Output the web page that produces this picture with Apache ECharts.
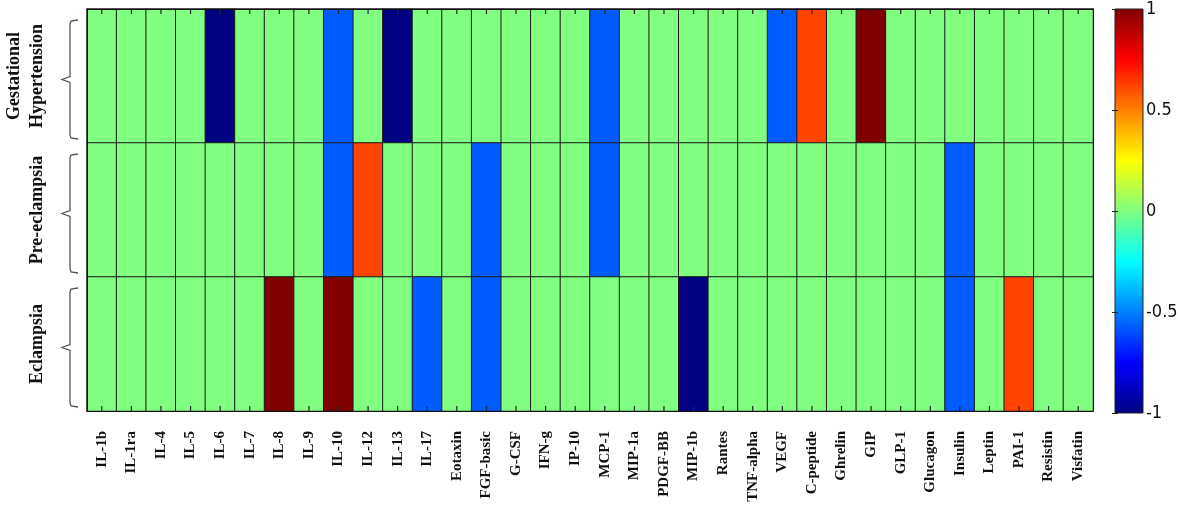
<!DOCTYPE html>
<html lang="en">
  <head>
    <meta charset="UTF-8" />
    <title>Heatmap</title>
    <script src="https://cdnjs.cloudflare.com/ajax/libs/echarts/6.0.0/echarts.min.js"></script>
    <style>
      html, body { margin: 0; padding: 0; background: #fff; }
      #main { width: 1178px; height: 509px; }
    </style>
  </head>
  <body>
    <div id="main"></div>
    <script type="text/javascript">
      // analytes along the x axis
      var analytes = ["IL-1b", "IL-1ra", "IL-4", "IL-5", "IL-6", "IL-7", "IL-8", "IL-9",
        "IL-10", "IL-12", "IL-13", "IL-17", "Eotaxin", "FGF-basic", "G-CSF", "IFN-g",
        "IP-10", "MCP-1", "MIP-1a", "PDGF-BB", "MIP-1b", "Rantes", "TNF-alpha", "VEGF",
        "C-peptide", "Ghrelin", "GIP", "GLP-1", "Glucagon", "Insulin", "Leptin", "PAI-1",
        "Resistin", "Visfatin"];
      var groups = ["Gestational\nHypertension", "Pre-eclampsia", "Eclampsia"];

      // values
      var gestHypertension = [0, 0, 0, 0, -1, 0, 0, 0, -0.57, 0, -1, 0, 0, 0, 0, 0,
        0, -0.57, 0, 0, 0, 0, 0, -0.57, 0.62, 0, 1, 0, 0, 0, 0, 0, 0, 0];
      var preEclampsia = [0, 0, 0, 0, 0, 0, 0, 0, -0.57, 0.62, 0, 0, 0, -0.57, 0, 0,
        0, -0.57, 0, 0, 0, 0, 0, 0, 0, 0, 0, 0, 0, -0.57, 0, 0, 0, 0];
      var eclampsia = [0, 0, 0, 0, 0, 0, 1, 0, 1, 0, 0, -0.57, 0, -0.57, 0, 0,
        0, 0, 0, 0, -1, 0, 0, 0, 0, 0, 0, 0, 0, -0.57, 0, 0.62, 0, 0];

      var colorbarTicks = [-1, -0.5, 0, 0.5, 1];
      var jet = ["#000080", "#0000ff", "#0080ff", "#00ffff", "#80ff80",
        "#ffff00", "#ff8000", "#ff0000", "#800000"];

      var rowsData = [gestHypertension, preEclampsia, eclampsia];
      var cells = [];
      rowsData.forEach(function (row, r) {
        row.forEach(function (v, c) {
          cells.push([c, r, v]);
        });
      });

      var serif = "Liberation Serif";
      var myChart = echarts.init(document.getElementById("main"));

      var option = {
        backgroundColor: "#fff",
        animation: false,
        grid: [
          { left: 87, right: 85, top: 9, bottom: 98, outerBoundsMode: "none", containLabel: false },
          { left: 1115, width: 28, top: 9, bottom: 96, outerBoundsMode: "none", containLabel: false }
        ],
        visualMap: {
          show: false,
          seriesIndex: 0,
          min: -1,
          max: 1,
          inRange: { color: jet }
        },
        xAxis: [
          {
            type: "category", data: analytes, gridIndex: 0, position: "bottom", z: 10,
            axisLine: { lineStyle: { color: "#111", width: 1 } },
            axisTick: { show: false },
            axisLabel: {
              rotate: 90, interval: 0, margin: 20, color: "#111", hideOverlap: false,
              fontFamily: serif, fontWeight: "bold", fontSize: 15
            }
          },
          {
            type: "category", data: analytes, gridIndex: 0, position: "top", z: 10,
            axisLine: { lineStyle: { color: "#111", width: 1 } },
            axisTick: { show: false },
            axisLabel: { show: false }
          },
          {
            type: "value", gridIndex: 1, min: 0, max: 1, show: false
          }
        ],
        yAxis: [
          {
            type: "category", data: groups, gridIndex: 0, inverse: true, position: "left", z: 10,
            axisLine: { lineStyle: { color: "#111", width: 1 } },
            axisTick: { show: false },
            axisLabel: {
              rotate: 90, interval: 0, margin: 38, color: "#111", lineHeight: 23, hideOverlap: false,
              fontFamily: serif, fontWeight: "bold", fontSize: 18
            }
          },
          {
            type: "category", data: groups, gridIndex: 0, inverse: true, position: "right", z: 10,
            axisLine: { lineStyle: { color: "#111", width: 1 } },
            axisTick: { show: false },
            axisLabel: { show: false }
          },
          {
            type: "value", gridIndex: 1, min: -1, max: 1, interval: 0.5, position: "right", z: 10,
            axisLine: { show: false },
            splitLine: { show: false },
            axisTick: { inside: true, length: 3, lineStyle: { color: "#222" } },
            axisLabel: {
              margin: 3, color: "#111",
              fontFamily: "'Liberation Sans Narrow', 'DejaVu Sans Condensed', sans-serif", fontSize: 18,
              customValues: colorbarTicks,
              formatter: function (v) { return String(v); }
            }
          },
          {
            type: "value", gridIndex: 1, min: -1, max: 1, interval: 0.5, position: "left", z: 10,
            axisLine: { show: false },
            splitLine: { show: false },
            axisTick: { inside: true, length: 3, lineStyle: { color: "#222" } },
            axisLabel: { show: false }
          }
        ],
        series: [
          {
            type: "heatmap",
            xAxisIndex: 0,
            yAxisIndex: 0,
            z: 1,
            data: cells,
            itemStyle: { borderColor: "#1a1a1a", borderWidth: 1 },
            emphasis: { disabled: true }
          },
          {
            // braces next to each group label, plus the column ticks on the outer rows
            type: "custom",
            xAxisIndex: 0,
            yAxisIndex: 0,
            clip: false,
            silent: true,
            zlevel: 1,
            data: groups.map(function (g, i) { return [0, i]; }),
            renderItem: function (params, api) {
              var row = api.value(1);
              var c = api.coord([0, row]);
              var sz = api.size([1, 1]);
              var x0 = c[0] - sz[0] / 2 - 17;
              var top = c[1] - sz[1] / 2 + 11;
              var bot = c[1] + sz[1] / 2 - 4;
              var mid = (top + bot) / 2;
              var children = [{
                type: "polyline",
                shape: {
                  points: [[x0 + 8, top], [x0 + 1, top + 1], [x0, top + 4], [x0, mid - 3],
                    [x0 - 8, mid], [x0, mid + 3], [x0, bot - 4], [x0 + 1, bot - 1], [x0 + 8, bot]]
                },
                style: { stroke: "#555", lineWidth: 1.3, fill: null }
              }];
              var edge = null, dir = 0;
              if (row === 0) { edge = c[1] - sz[1] / 2; dir = 1; }
              if (row === groups.length - 1) { edge = c[1] + sz[1] / 2; dir = -1; }
              if (edge !== null) {
                analytes.forEach(function (a, i) {
                  var x = api.coord([i, row])[0];
                  children.push({
                    type: "polyline",
                    shape: { points: [[x, edge], [x, edge + dir * 5]] },
                    style: { stroke: "#222", lineWidth: 1.2, fill: null }
                  });
                });
              }
              return { type: "group", children: children };
            }
          },
          {
            // colour bar
            type: "custom",
            xAxisIndex: 2,
            yAxisIndex: 2,
            silent: true,
            data: [[0, -1, 1]],
            renderItem: function (params, api) {
              var p0 = api.coord([0, api.value(1)]);
              var p1 = api.coord([1, api.value(2)]);
              var stops = jet.map(function (col, i) {
                return { offset: i / (jet.length - 1), color: col };
              });
              return {
                type: "rect",
                shape: { x: p0[0], y: p1[1], width: p1[0] - p0[0], height: p0[1] - p1[1] },
                style: {
                  fill: new echarts.graphic.LinearGradient(0, 1, 0, 0, stops),
                  stroke: "#222",
                  lineWidth: 1
                }
              };
            }
          }
        ]
      };
      myChart.setOption(option);
    </script>
  </body>
</html>
